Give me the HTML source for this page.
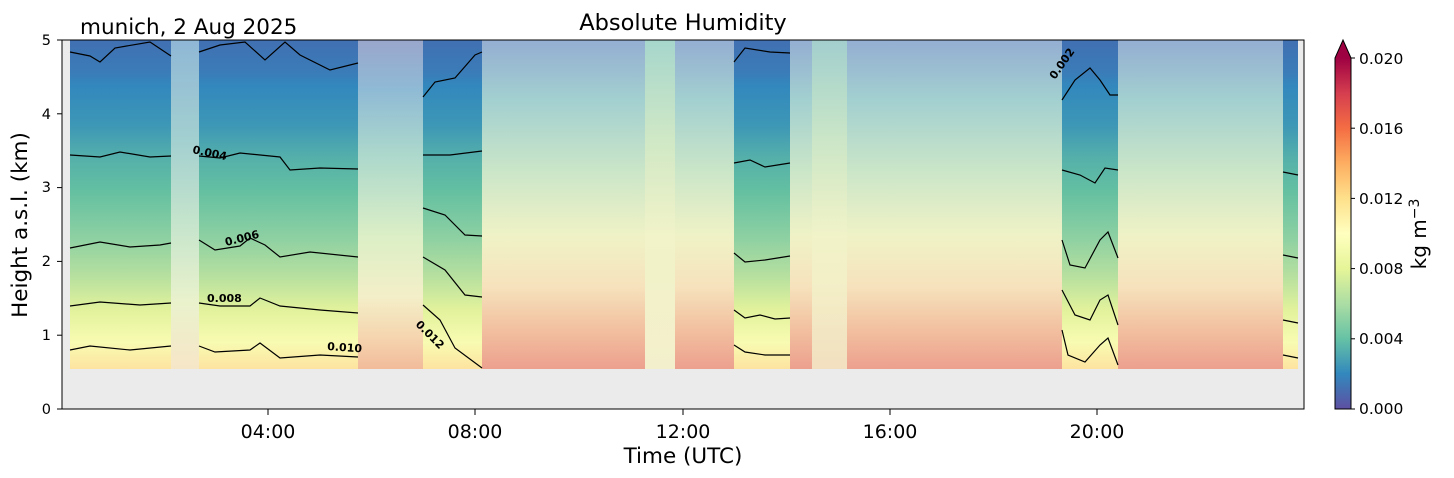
<!DOCTYPE html><html><head><meta charset="utf-8"><style>body{margin:0;background:#fff}svg{display:block;font-family:"DejaVu Sans","Liberation Sans",sans-serif}</style></head><body>
<svg width="1454" height="478" viewBox="0 0 1454 478">
<defs>
<linearGradient id="n" x1="0" y1="0" x2="0" y2="1">
<stop offset="0" stop-color="#4170b2"/><stop offset="0.1" stop-color="#3a7cb8"/><stop offset="0.14" stop-color="#3288bd"/><stop offset="0.26" stop-color="#3d97b6"/><stop offset="0.36" stop-color="#55b0aa"/><stop offset="0.46" stop-color="#64c0a1"/><stop offset="0.6" stop-color="#8dd0a2"/><stop offset="0.72" stop-color="#b7e09f"/><stop offset="0.82" stop-color="#e2f29c"/><stop offset="0.92" stop-color="#f8fbb2"/><stop offset="1" stop-color="#fde3a0"/></linearGradient>
<linearGradient id="w1" x1="0" y1="0" x2="0" y2="1">
<stop offset="0" stop-color="#8fb7d6"/><stop offset="0.3" stop-color="#a2cfd0"/><stop offset="0.55" stop-color="#c4e4cc"/><stop offset="0.8" stop-color="#eaf2cc"/><stop offset="1" stop-color="#f6e6c8"/></linearGradient>
<linearGradient id="w2" x1="0" y1="0" x2="0" y2="1">
<stop offset="0" stop-color="#9aa6cc"/><stop offset="0.15" stop-color="#8fbad5"/><stop offset="0.35" stop-color="#acd8cc"/><stop offset="0.6" stop-color="#dcefc6"/><stop offset="0.78" stop-color="#f3efc8"/><stop offset="0.9" stop-color="#f5d6b0"/><stop offset="1" stop-color="#f2bb9a"/></linearGradient>
<linearGradient id="w3" x1="0" y1="0" x2="0" y2="1">
<stop offset="0" stop-color="#94aed2"/><stop offset="0.18" stop-color="#a2cfd0"/><stop offset="0.4" stop-color="#cbe6c8"/><stop offset="0.6" stop-color="#f0f2c6"/><stop offset="0.75" stop-color="#f6e2bc"/><stop offset="0.88" stop-color="#f2c0a0"/><stop offset="1" stop-color="#eca08e"/></linearGradient>
<linearGradient id="w4" x1="0" y1="0" x2="0" y2="1">
<stop offset="0" stop-color="#a6d6cc"/><stop offset="0.3" stop-color="#cfe8c6"/><stop offset="0.6" stop-color="#f2f3c8"/><stop offset="1" stop-color="#f3efcc"/></linearGradient>
<linearGradient id="cb" x1="0" y1="1" x2="0" y2="0">
<stop offset="0" stop-color="#5e4fa2"/><stop offset="0.1" stop-color="#3288bd"/><stop offset="0.2" stop-color="#66c2a5"/><stop offset="0.3" stop-color="#abdda4"/><stop offset="0.4" stop-color="#e6f598"/><stop offset="0.5" stop-color="#ffffbf"/><stop offset="0.6" stop-color="#fee08b"/><stop offset="0.7" stop-color="#fdae61"/><stop offset="0.8" stop-color="#f46d43"/><stop offset="0.9" stop-color="#d53e4f"/><stop offset="1" stop-color="#9e0142"/></linearGradient>
</defs>
<rect x="62" y="40" width="1242" height="369" fill="#ebebeb"/>
<rect x="70" y="40" width="101" height="329" fill="url(#n)"/>
<rect x="171" y="40" width="28" height="329" fill="url(#w1)"/>
<rect x="199" y="40" width="159" height="329" fill="url(#n)"/>
<rect x="358" y="40" width="65" height="329" fill="url(#w2)"/>
<rect x="423" y="40" width="59" height="329" fill="url(#n)"/>
<rect x="482" y="40" width="252" height="329" fill="url(#w3)"/>
<rect x="645" y="40" width="30" height="329" fill="url(#w4)"/>
<rect x="734" y="40" width="56" height="329" fill="url(#n)"/>
<rect x="790" y="40" width="272" height="329" fill="url(#w3)"/>
<rect x="812" y="40" width="35" height="329" fill="url(#w4)" opacity="0.8"/>
<rect x="1062" y="40" width="56" height="329" fill="url(#n)"/>
<rect x="1118" y="40" width="165" height="329" fill="url(#w3)"/>
<rect x="1283" y="40" width="15" height="329" fill="url(#n)"/>
<g fill="none" stroke="#000" stroke-width="1.2">
<path d="M70,52 L90,56 L100,62 L115,48 L150,42 L171,56"/>
<path d="M199,52 L220,45 L245,42 L265,60 L285,42 L300,55 L330,70 L358,63"/>
<path d="M423,97 L435,82 L455,78 L475,55 L482,52"/>
<path d="M734,62 L745,48 L770,52 L790,53"/>
<path d="M1062,100 L1075,80 L1090,68 L1100,80 L1110,95 L1118,95"/>
<path d="M70,155 L100,157 L120,152 L150,157 L171,156"/>
<path d="M199,156 L220,158 L240,153 L280,157 L290,170 L320,168 L358,169"/>
<path d="M423,155 L450,155 L482,151"/>
<path d="M734,163 L750,160 L765,167 L790,163"/>
<path d="M1062,170 L1080,175 L1095,183 L1105,168 L1118,170"/>
<path d="M1283,172 L1298,175"/>
<path d="M70,248 L100,242 L130,247 L160,245 L171,243"/>
<path d="M199,240 L215,250 L240,246 L250,238 L265,245 L280,257 L310,252 L358,257"/>
<path d="M423,208 L445,215 L465,235 L482,236"/>
<path d="M734,253 L745,262 L765,260 L790,256"/>
<path d="M1062,240 L1070,265 L1085,268 L1100,240 L1108,232 L1118,258"/>
<path d="M1283,255 L1298,258"/>
<path d="M70,306 L100,302 L140,305 L171,303"/>
<path d="M199,303 L220,306 L250,306 L260,298 L280,306 L320,310 L358,313"/>
<path d="M423,257 L445,270 L465,295 L482,297"/>
<path d="M734,310 L745,318 L760,315 L775,319 L790,318"/>
<path d="M1062,290 L1075,315 L1090,320 L1100,300 L1108,295 L1118,325"/>
<path d="M1283,320 L1298,323"/>
<path d="M70,350 L90,346 L130,350 L171,346"/>
<path d="M199,346 L215,352 L250,350 L260,343 L280,358 L320,355 L358,357"/>
<path d="M423,305 L440,320 L455,348 L482,368"/>
<path d="M734,345 L745,352 L765,355 L790,355"/>
<path d="M1062,330 L1068,355 L1085,362 L1100,345 L1108,338 L1118,365"/>
<path d="M1283,355 L1298,358"/>
</g>
<g font-size="11" font-weight="bold" fill="#000">
<text x="192" y="153" transform="rotate(12 192 153)">0.004</text>
<text x="226" y="246" transform="rotate(-14 226 246)">0.006</text>
<text x="207" y="302">0.008</text>
<text x="327" y="350" transform="rotate(4 327 350)">0.010</text>
<text x="415" y="325" transform="rotate(45 415 325)">0.012</text>
<text x="1055" y="80" transform="rotate(-55 1055 80)">0.002</text>
</g>
<rect x="62" y="40" width="1242" height="369" fill="none" stroke="#000" stroke-width="1"/>
<g stroke="#000" stroke-width="1">
<line x1="57" y1="409" x2="62" y2="409"/><line x1="57" y1="335.2" x2="62" y2="335.2"/><line x1="57" y1="261.4" x2="62" y2="261.4"/><line x1="57" y1="187.6" x2="62" y2="187.6"/><line x1="57" y1="113.8" x2="62" y2="113.8"/><line x1="57" y1="40" x2="62" y2="40"/>
<line x1="268" y1="409" x2="268" y2="415"/><line x1="475" y1="409" x2="475" y2="415"/><line x1="683" y1="409" x2="683" y2="415"/><line x1="890" y1="409" x2="890" y2="415"/><line x1="1097" y1="409" x2="1097" y2="415"/>
</g>
<g font-size="14.5" text-anchor="end" fill="#000">
<text x="51" y="414">0</text><text x="51" y="340">1</text><text x="51" y="266">2</text><text x="51" y="192">3</text><text x="51" y="119">4</text><text x="51" y="45">5</text>
</g>
<g font-size="19" text-anchor="middle" fill="#000">
<text x="268" y="438">04:00</text><text x="475" y="438">08:00</text><text x="683" y="438">12:00</text><text x="890" y="438">16:00</text><text x="1097" y="438">20:00</text>
<text x="683" y="463" font-size="21.5">Time (UTC)</text>
<text x="683" y="30" font-size="22.5">Absolute Humidity</text>
<text x="27" y="225" font-size="21.5" transform="rotate(-90 27 225)">Height a.s.l. (km)</text>
</g>
<text x="80" y="34" font-size="21.5" fill="#000">munich, 2 Aug 2025</text>
<rect x="1335" y="58" width="16" height="351" fill="url(#cb)"/>
<polygon points="1335,58 1343,40 1351,58" fill="#9e0142"/>
<polygon points="1335,409 1335,58 1343,40 1351,58 1351,409" fill="none" stroke="#000" stroke-width="1"/>
<g stroke="#000"><line x1="1351" y1="409" x2="1355" y2="409"/><line x1="1351" y1="338.8" x2="1355" y2="338.8"/><line x1="1351" y1="268.6" x2="1355" y2="268.6"/><line x1="1351" y1="198.4" x2="1355" y2="198.4"/><line x1="1351" y1="128.2" x2="1355" y2="128.2"/><line x1="1351" y1="58" x2="1355" y2="58"/></g>
<g font-size="15.5" fill="#000">
<text x="1359" y="414">0.000</text><text x="1359" y="344">0.004</text><text x="1359" y="274">0.008</text><text x="1359" y="204">0.012</text><text x="1359" y="134">0.016</text><text x="1359" y="64">0.020</text>
</g>
<text x="1426" y="234" font-size="20" text-anchor="middle" transform="rotate(-90 1426 234)">kg m<tspan dy="-7" font-size="14">−3</tspan></text>
</svg>
</body></html>
